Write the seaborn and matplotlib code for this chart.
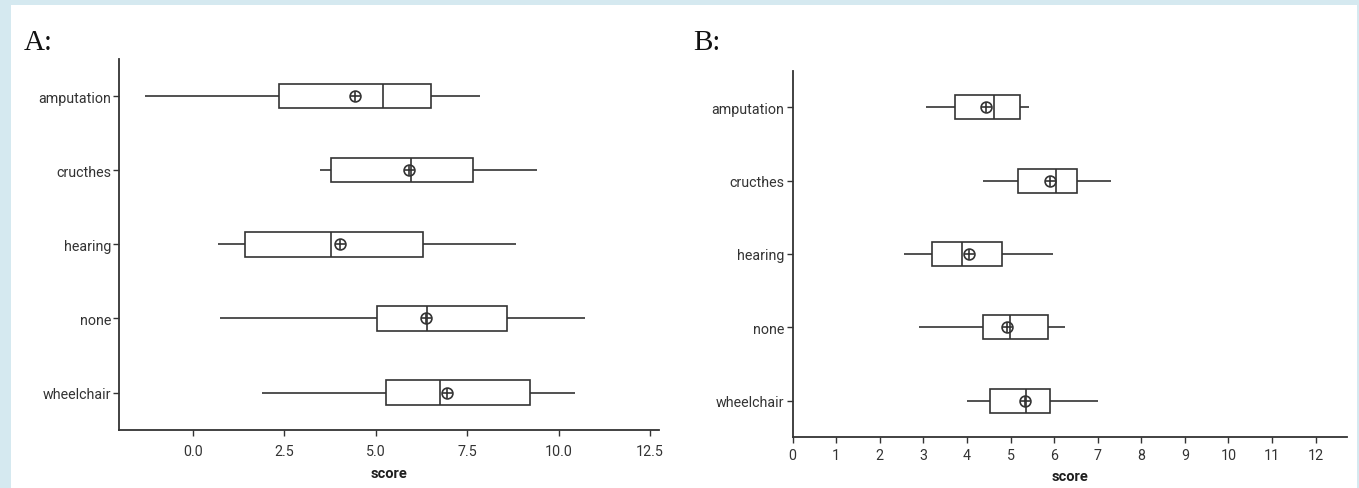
import numpy as np
import pandas as pd
import matplotlib
matplotlib.use("Agg")
import matplotlib.pyplot as plt
from matplotlib.patches import Rectangle
import seaborn as sns

categories = ["amputation", "cructhes", "hearing", "none", "wheelchair"]

# Panel A summary statistics
a_low = [-1.30, 3.49, 0.70, 0.74, 1.89]
a_q1 = [2.36, 3.78, 1.42, 5.04, 5.29]
a_med = [5.20, 5.97, 3.78, 6.41, 6.75]
a_q3 = [6.51, 7.66, 6.30, 8.59, 9.21]
a_high = [7.84, 9.42, 8.83, 10.72, 10.44]
a_mean = [4.44, 5.90, 4.03, 6.37, 6.94]

# Panel B summary statistics
b_low = [3.06, 4.38, 2.56, 2.91, 4.00]
b_q1 = [3.73, 5.17, 3.19, 4.38, 4.54]
b_med = [4.62, 6.05, 3.88, 4.98, 5.35]
b_q3 = [5.21, 6.53, 4.80, 5.87, 5.91]
b_high = [5.43, 7.31, 5.97, 6.24, 7.00]
b_mean = [4.43, 5.91, 4.04, 4.92, 5.33]

a_ticks = [0.0, 2.5, 5.0, 7.5, 10.0, 12.5]
a_ticklabels = ["0.0", "2.5", "5.0", "7.5", "10.0", "12.5"]
b_ticks = list(range(0, 13))
b_ticklabels = [str(t) for t in b_ticks]

sns.set_style("ticks")
plt.rcParams["font.family"] = ["Roboto", "DejaVu Sans"]

LINE = "#333333"
TXT = "#333333"


def long_table(low, q1, med, q3, high):
    rows = []
    for c, vals in zip(categories, zip(low, q1, med, q3, high)):
        for v in vals:
            rows.append({"category": c, "score": v})
    return pd.DataFrame(rows)


def draw(ax, low, q1, med, q3, high, mean, xlim, ticks, ticklabels, xpad, labelpad):
    df = long_table(low, q1, med, q3, high)
    sns.boxplot(data=df, x="score", y="category", order=categories, orient="h",
                whis=(0, 100), width=0.33, color="white", linecolor=LINE,
                linewidth=1.2, showcaps=False, fliersize=0, ax=ax)
    mdf = pd.DataFrame({"category": categories, "score": mean})
    sns.pointplot(data=mdf, x="score", y="category", order=categories, orient="h",
                  linestyle="none", errorbar=None, color=LINE, marker="o",
                  markersize=7.8, markerfacecolor="none", markeredgewidth=1.2,
                  markeredgecolor=LINE, ax=ax)
    sns.pointplot(data=mdf, x="score", y="category", order=categories, orient="h",
                  linestyle="none", errorbar=None, color=LINE, marker="+",
                  markersize=7.8, markeredgewidth=1.2, markeredgecolor=LINE, ax=ax)
    ax.set_xlim(*xlim)
    ax.set_ylim(4.5, -0.5)
    ax.set_xticks(ticks)
    ax.set_xticklabels(ticklabels)
    ax.set_ylabel("")
    ax.set_xlabel("score", fontweight="bold", fontsize=10.5, color="#1e1e1e",
                  labelpad=labelpad)
    sns.despine(ax=ax)
    for sp in ["left", "bottom"]:
        ax.spines[sp].set_color(LINE)
        ax.spines[sp].set_linewidth(1.3)
    ax.tick_params(axis="both", colors=LINE, labelcolor=TXT, labelsize=10.3,
                   length=4, width=1.0)
    ax.tick_params(axis="y", pad=2)
    ax.tick_params(axis="x", pad=xpad)
    ax.set_facecolor("white")


fig = plt.figure(figsize=(13.59, 4.89), dpi=100)
fig.patch.set_facecolor("#d5e9f0")
fig.add_artist(Rectangle((11 / 1359, 0), (1357 - 11) / 1359, (489 - 6) / 489,
                         transform=fig.transFigure, facecolor="white",
                         edgecolor="none", zorder=-10))

axA = fig.add_axes([0.0879, 0.1192, 0.3967, 0.7581])
axB = fig.add_axes([0.5832, 0.1037, 0.4080, 0.7497])

draw(axA, a_low, a_q1, a_med, a_q3, a_high, a_mean, (-2.0, 12.73), a_ticks,
     a_ticklabels, xpad=6, labelpad=6)
draw(axB, b_low, b_q1, b_med, b_q3, b_high, b_mean, (0, 12.72), b_ticks,
     b_ticklabels, xpad=3.5, labelpad=5)

fig.text(24 / 1359, 1 - 50 / 489, "A:", fontfamily="Liberation Serif", fontsize=21,
         color="#111111", va="baseline", ha="left")
fig.text(693 / 1359, 1 - 50 / 489, "B:", fontfamily="Liberation Serif", fontsize=21,
         color="#111111", va="baseline", ha="left")

fig.savefig("out.png", dpi=100, facecolor=fig.get_facecolor())
